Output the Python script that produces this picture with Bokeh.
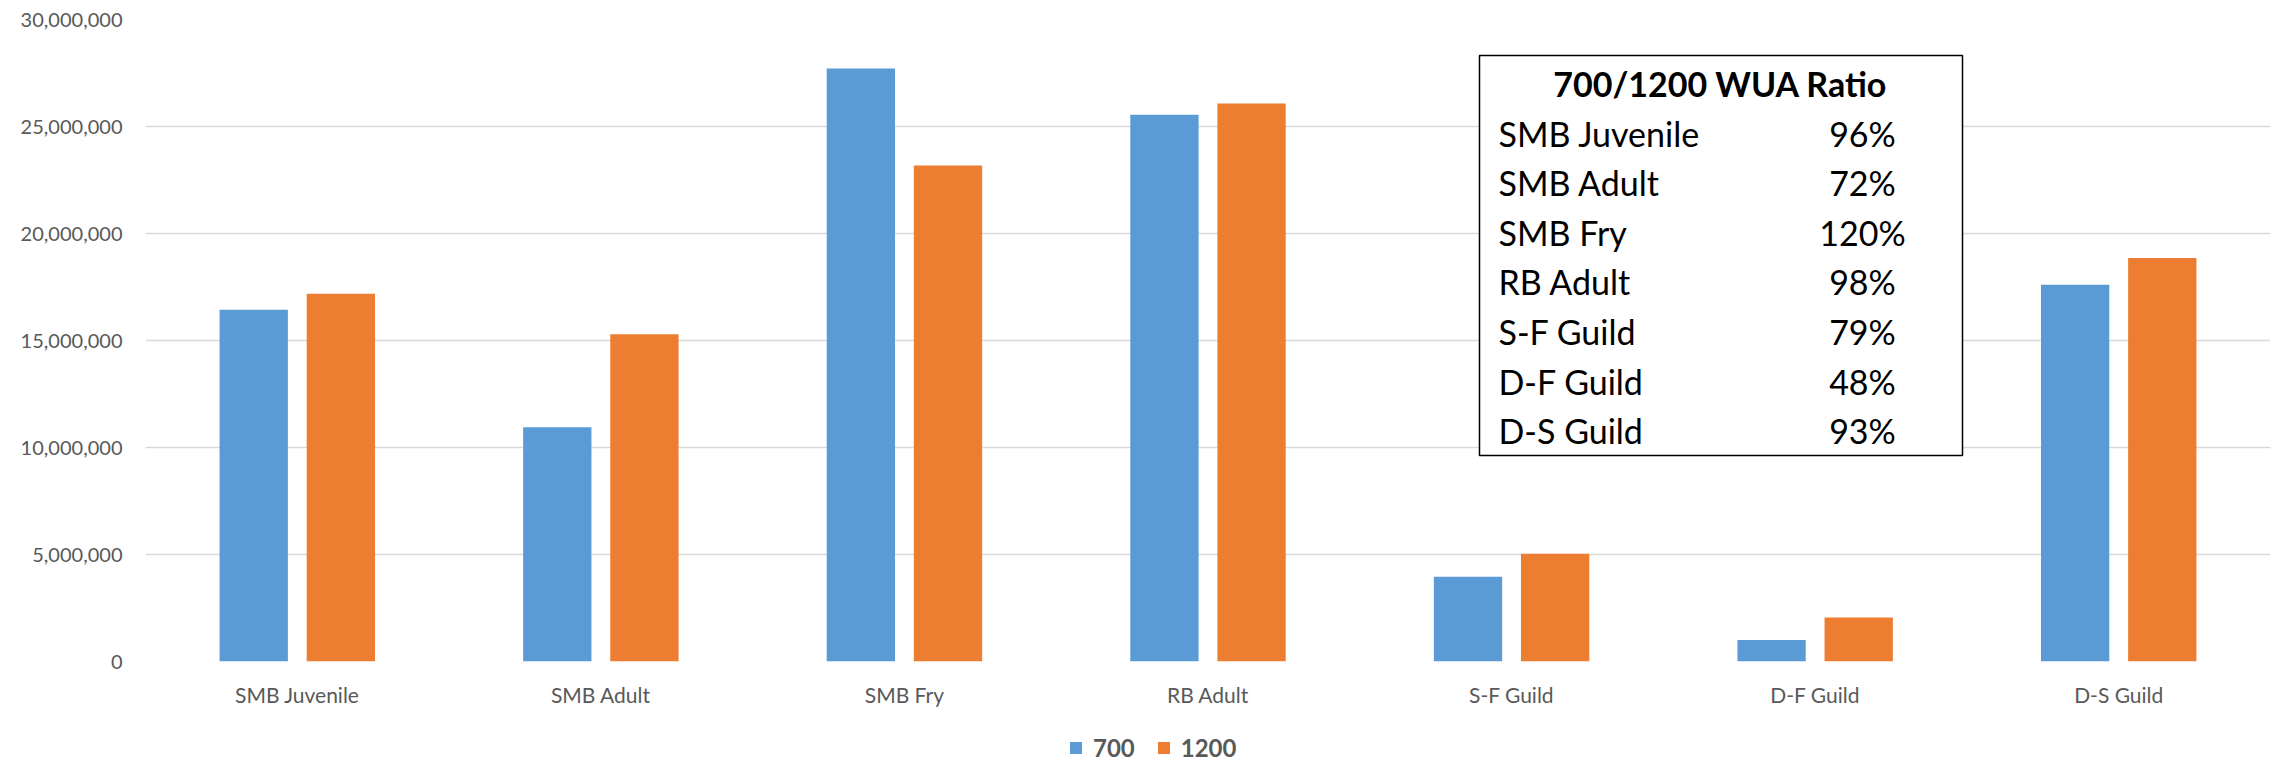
from bokeh.plotting import figure
from bokeh.layouts import column
from bokeh.models import (FactorRange, Range1d, FixedTicker, NumeralTickFormatter,
                          ColumnDataSource, Legend, LegendItem, Label, BoxAnnotation)
from bokeh.transform import dodge
from bokeh.embed import file_html
from bokeh.resources import INLINE

# ---- data ----
categories = ["SMB Juvenile", "SMB Adult", "SMB Fry", "RB Adult", "S-F Guild", "D-F Guild", "D-S Guild"]
wua_700 = [16.44e6, 10.95e6, 27.71e6, 25.55e6, 3.96e6, 1.00e6, 17.61e6]
wua_1200 = [17.19e6, 15.29e6, 23.18e6, 26.07e6, 5.04e6, 2.06e6, 18.86e6]
series_names = ["700", "1200"]
y_ticks = [0, 5e6, 10e6, 15e6, 20e6, 25e6, 30e6]
table_title = "700/1200 WUA Ratio"
table_rows = ["SMB Juvenile", "SMB Adult", "SMB Fry", "RB Adult", "S-F Guild", "D-F Guild", "D-S Guild"]
table_ratios = ["96%", "72%", "120%", "98%", "79%", "48%", "93%"]

BLUE = "#5B9BD5"
ORANGE = "#ED7D31"
FONT = "Lato"

W = 2287
H_MAIN, H_LEG = 720, 44
BL, BR, BT, BB = 145, 17, 19, 59
FW = W - BL - BR
FH = H_MAIN - BT - BB

src = ColumnDataSource(dict(cat=categories, a=wua_700, b=wua_1200))

p = figure(x_range=FactorRange(*categories, range_padding=0), y_range=Range1d(0, 30e6),
           width=W, height=H_MAIN, output_backend="svg", toolbar_location=None,
           min_border_left=BL, min_border_right=BR, min_border_top=BT, min_border_bottom=BB)
p.outline_line_color = None
p.background_fill_color = "white"
p.border_fill_color = "white"

r1 = p.vbar(x=dodge("cat", -0.1435, range=p.x_range), top="a", width=0.225, source=src,
            fill_color=BLUE, line_color=None)
r2 = p.vbar(x=dodge("cat", 0.1435, range=p.x_range), top="b", width=0.225, source=src,
            fill_color=ORANGE, line_color=None)

p.xgrid.grid_line_color = None
p.ygrid.grid_line_color = "#D9D9D9"
p.ygrid.grid_line_width = 1.5

p.yaxis.ticker = FixedTicker(ticks=y_ticks)
p.yaxis.formatter = NumeralTickFormatter(format="0,0")
p.yaxis.axis_line_color = None
p.yaxis.major_tick_line_color = None
p.yaxis.minor_tick_line_color = None
p.yaxis.major_tick_out = 0
p.yaxis.major_tick_in = 0
p.yaxis.major_label_standoff = 23
p.yaxis.major_label_text_font = FONT
p.yaxis.major_label_text_font_size = "20px"
p.yaxis.major_label_text_color = "#595959"

p.xaxis.axis_line_color = None
p.xaxis.major_tick_line_color = None
p.xaxis.minor_tick_line_color = None
p.xaxis.major_tick_out = 0
p.xaxis.major_tick_in = 0
p.xaxis.major_label_standoff = 20
p.xaxis.major_label_text_font = FONT
p.xaxis.major_label_text_font_size = "21px"
p.xaxis.major_label_text_color = "#595959"

# ---- ratio table (annotation placed via page pixel -> data conversion) ----
PAGE_FL = BL
PAGE_FB = BT + FH
def dx(xp):
    return (xp - PAGE_FL) / (FW / len(categories))
def dy(yp):
    return (PAGE_FB - yp) * 30e6 / FH

p.add_layout(BoxAnnotation(left=dx(1479), right=dx(1962), top=dy(55), bottom=dy(455),
                           fill_color="white", fill_alpha=1.0,
                           line_color="#000000", line_alpha=1.0, line_width=1.5))
p.add_layout(Label(x=dx(1720), y=dy(82.5), text=table_title, text_font=FONT,
                   text_font_style="bold", text_font_size="34px", text_color="#000000",
                   text_align="center", text_baseline="middle"))
for i, (name, ratio) in enumerate(zip(table_rows, table_ratios)):
    yc = 132.5 + 49.6 * i
    p.add_layout(Label(x=dx(1498), y=dy(yc), text=name, text_font=FONT,
                       text_font_size="34px", text_color="#000000",
                       text_align="left", text_baseline="middle"))
    p.add_layout(Label(x=dx(1862), y=dy(yc), text=ratio, text_font=FONT,
                       text_font_size="34px", text_color="#000000",
                       text_align="center", text_baseline="middle"))

# ---- legend strip below the chart ----
pl = figure(width=W, height=H_LEG, x_range=Range1d(0, W), y_range=Range1d(0, H_LEG),
            output_backend="svg", toolbar_location=None, x_axis_type=None, y_axis_type=None,
            min_border=0, min_border_left=0, min_border_right=0, min_border_top=0, min_border_bottom=0)
pl.outline_line_color = None
pl.background_fill_color = "white"
pl.border_fill_color = "white"
swatch = ColumnDataSource(dict(x=[0], top=[0]))
l1 = pl.vbar(x="x", top="top", width=0, source=swatch, fill_color=BLUE, line_color=None)
l2 = pl.vbar(x="x", top="top", width=0, source=swatch, fill_color=ORANGE, line_color=None)
legend = Legend(items=[LegendItem(label=series_names[0], renderers=[l1]),
                       LegendItem(label=series_names[1], renderers=[l2])],
                location=(923, 2), orientation="horizontal",
                glyph_width=15, glyph_height=15, label_standoff=10, spacing=21,
                padding=0, margin=0, border_line_color=None, background_fill_alpha=0,
                label_text_font=FONT, label_text_font_style="bold",
                label_text_font_size="24px", label_text_color="#595959")
pl.add_layout(legend)

layout = column(p, pl, spacing=0)
open("out.html", "w").write(file_html(layout, INLINE))
